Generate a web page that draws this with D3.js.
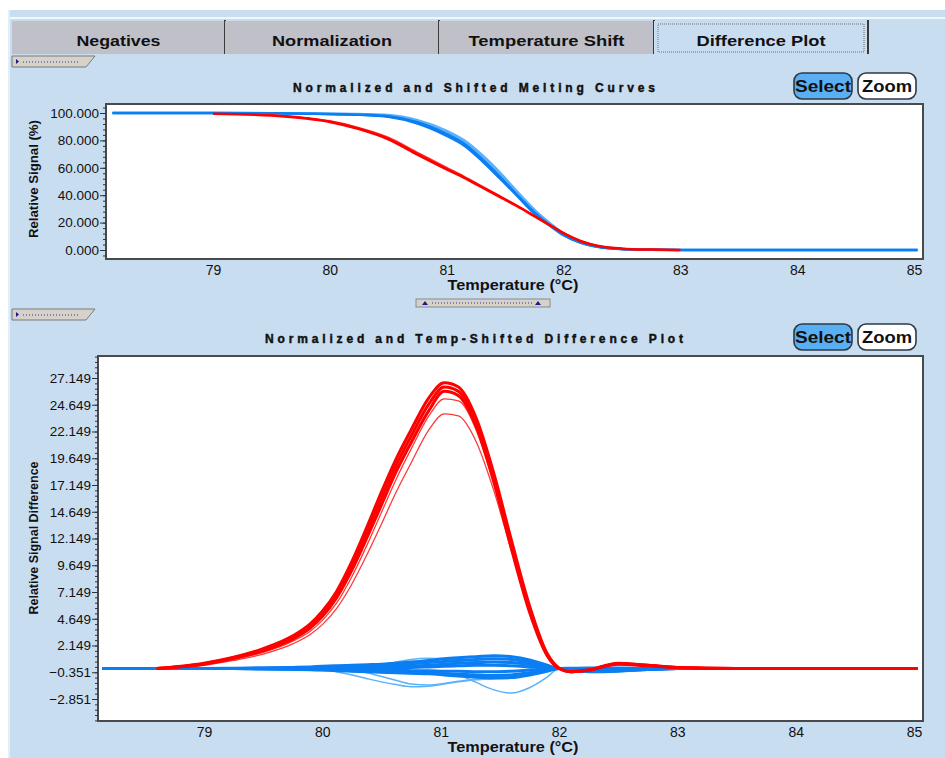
<!DOCTYPE html>
<html>
<head>
<meta charset="utf-8">
<script src="https://cdn.jsdelivr.net/npm/d3@7"></script>
<style>
body { margin: 0; background: #ffffff; }
svg { display: block; font-family: "Liberation Sans", Arial, sans-serif; }
</style>
</head>
<body>
<div id="chart"></div>
<script>
// tabs across the top
var tabNames = ["Negatives", "Normalization", "Temperature Shift", "Difference Plot"];

// upper plot: normalized and shifted melting curves (%)
var meltTemps = [78.14, 78.5, 79.0, 79.5, 79.8, 80.0, 80.25, 80.5, 80.75, 81.0, 81.15, 81.3, 81.45, 81.6, 81.75, 81.9, 82.0, 82.15, 82.3, 82.5, 82.75, 83.0, 83.2, 83.5, 84.0, 84.5, 85.03];
var meltBlue1 = [100, 100, 100, 99.8, 99.5, 99.2, 98.8, 97.6, 93.2, 84.5, 77.5, 66.5, 54, 40.5, 27.5, 17, 11, 5.2, 2.2, 0.7, 0.2, 0, 0, 0, 0, 0, 0];
var meltBlue2 = [100, 100, 100, 99.9, 99.7, 99.5, 99.2, 98.5, 94.8, 87, 80, 69.5, 57, 43, 29.5, 18.5, 12, 5.8, 2.5, 0.8, 0.2, 0, 0, 0, 0, 0, 0];
var meltBlue3 = [100, 100, 100, 99.8, 99.6, 99.3, 99.0, 98.0, 94, 86, 79, 68, 55.5, 42, 28.5, 17.5, 11.5, 5.5, 2.3, 0.7, 0.2, 0, 0, 0, 0, 0, 0];
var meltBlue4 = [100, 100, 100, 99.8, 99.4, 99.0, 98.5, 97.0, 92.2, 83.2, 76, 65, 52.5, 39.5, 26.5, 16.5, 10.6, 5, 2.1, 0.6, 0.2, 0, 0, 0, 0, 0, 0];
var meltRed1 = [null, null, 99.5, 98.5, 96.6, 94.3, 89.3, 82.3, 71.3, 60.3, 53.8, 46.8, 39.8, 32.7, 25.2, 17.6, 12.6, 6.6, 3, 1, 0.3, 0, null, null, null, null, null];
var meltRed2 = [null, null, 99.5, 98.2, 96, 93.5, 88.2, 80.8, 69.6, 58.8, 52.6, 45.8, 39, 32.1, 24.7, 17.2, 12.3, 6.4, 2.9, 1, 0.3, 0, null, null, null, null, null];
var meltRed3 = [null, null, 99.5, 98.4, 96.3, 93.9, 88.8, 81.6, 70.5, 59.6, 53.2, 46.3, 39.4, 32.4, 24.9, 17.4, 12.4, 6.5, 3, 1, 0.3, 0, null, null, null, null, null];
var meltYTicks = [0, 20, 40, 60, 80, 100];

// lower plot: difference to reference
var diffTemps = [78.14, 78.6, 79.0, 79.25, 79.5, 79.75, 79.9, 80.0, 80.12, 80.25, 80.38, 80.5, 80.62, 80.75, 80.9, 81.03, 81.15, 81.3, 81.45, 81.6, 81.75, 81.9, 82.0, 82.1, 82.25, 82.5, 82.75, 83.0, 83.5, 84.0, 84.5, 85.03];
var diffRed1 = [null, 0, 0.5, 1.05, 1.85, 3.05, 4.2, 5.35, 7.2, 10.0, 13.3, 16.5, 19.5, 22.3, 25.3, 26.7, 26.3, 23.4, 18.2, 11.9, 5.9, 1.4, 0.05, -0.3, -0.15, 0.5, 0.3, 0.1, 0, 0, 0, 0];
var diffRed2 = [null, 0, 0.45, 1.0, 1.75, 2.9, 4.0, 5.1, 6.9, 9.6, 12.8, 15.9, 18.9, 21.7, 24.7, 26.3, 25.9, 23.0, 17.8, 11.5, 5.6, 1.3, 0, -0.3, -0.15, 0.45, 0.3, 0.1, 0, 0, 0, 0];
var diffRed3 = [null, 0, 0.4, 0.95, 1.65, 2.75, 3.8, 4.85, 6.6, 9.2, 12.3, 15.3, 18.3, 21.1, 24.1, 25.9, 25.5, 22.6, 17.4, 11.1, 5.3, 1.2, 0, -0.3, -0.15, 0.4, 0.25, 0.1, 0, 0, 0, 0];
var diffRed4 = [null, 0, 0.35, 0.85, 1.5, 2.55, 3.5, 4.5, 6.1, 8.6, 11.6, 14.6, 17.6, 20.5, 23.6, 25.2, 25.0, 22.3, 17.3, 11.2, 5.4, 1.2, 0, -0.3, -0.15, 0.4, 0.25, 0.1, 0, 0, 0, 0];
var diffRed5 = [null, 0, 0.3, 0.75, 1.35, 2.3, 3.2, 4.1, 5.6, 7.9, 10.7, 13.5, 16.4, 19.2, 22.3, 23.8, 23.6, 21.2, 16.6, 10.9, 5.3, 1.2, 0, -0.3, -0.15, 0.4, 0.25, 0.1, 0, 0, 0, 0];
var diffBlue1 = [0, 0, 0, 0.02, 0.05, 0.1, 0.15, 0.2, 0.25, 0.3, 0.35, 0.4, 0.5, 0.6, 0.75, 0.9, 1.0, 1.1, 1.2, 1.1, 0.8, 0.3, 0, 0, 0, 0, 0, 0, 0, 0, 0, 0];
var diffBlue2 = [0, 0, 0, 0, 0.03, 0.06, 0.1, 0.12, 0.15, 0.2, 0.25, 0.3, 0.35, 0.45, 0.55, 0.65, 0.75, 0.85, 0.9, 0.85, 0.6, 0.25, 0, 0.02, 0.05, 0.05, 0.02, 0, 0, 0, 0, 0];
var diffBlue3 = [0, 0, 0, 0, 0.02, 0.04, 0.05, 0.06, 0.08, 0.1, 0.12, 0.15, 0.2, 0.25, 0.3, 0.4, 0.5, 0.55, 0.6, 0.55, 0.4, 0.15, 0, 0, 0, 0, 0, 0, 0, 0, 0, 0];
var diffBlue4 = [0, 0, 0, 0, 0, 0, 0, 0, 0, 0, 0, 0, 0.05, 0.1, 0.15, 0.2, 0.25, 0.3, 0.3, 0.25, 0.15, 0.05, 0, -0.05, -0.1, -0.1, -0.05, 0, 0, 0, 0, 0];
var diffBlue5 = [0, 0, 0, 0, -0.02, -0.04, -0.05, -0.06, -0.08, -0.1, -0.12, -0.15, -0.15, -0.2, -0.2, -0.25, -0.25, -0.3, -0.3, -0.25, -0.15, -0.05, 0, -0.1, -0.15, -0.1, -0.05, 0, 0, 0, 0, 0];
var diffBlue6 = [0, 0, 0, 0, -0.03, -0.06, -0.1, -0.12, -0.15, -0.2, -0.25, -0.3, -0.35, -0.4, -0.45, -0.5, -0.55, -0.6, -0.65, -0.6, -0.4, -0.15, 0, -0.15, -0.25, -0.2, -0.1, 0, 0, 0, 0, 0];
var diffBlue7 = [0, 0, 0, 0, -0.04, -0.08, -0.12, -0.15, -0.2, -0.25, -0.3, -0.35, -0.4, -0.45, -0.5, -0.6, -0.7, -0.8, -0.9, -0.85, -0.6, -0.25, 0, -0.2, -0.3, -0.25, -0.1, 0, 0, 0, 0, 0];
var diffBlue8 = [0, 0, 0, 0, 0, 0, 0, 0.05, 0.08, 0.1, 0.2, 0.35, 0.6, 0.85, 0.95, 0.9, 0.8, 0.7, 0.6, 0.5, 0.3, 0.1, 0, 0, 0, 0, 0, 0, 0, 0, 0, 0];
var diffBlue9 = [0, 0, 0, 0, 0, 0, 0, -0.05, -0.3, -0.6, -0.95, -1.25, -1.5, -1.7, -1.65, -1.45, -1.25, -1.05, -0.95, -0.85, -0.6, -0.25, 0, 0, 0, 0, 0, 0, 0, 0, 0, 0];
var diffBlue10 = [0, 0, 0, 0, 0, 0, 0, 0, 0, -0.1, -0.4, -0.75, -1.1, -1.45, -1.55, -1.4, -1.2, -0.95, -0.8, -0.7, -0.5, -0.2, 0, 0, 0, 0, 0, 0, 0, 0, 0, 0];
var diffBlue11 = [0, 0, 0, 0, 0, 0, 0, 0, 0, 0, -0.05, -0.1, -0.15, -0.2, -0.3, -0.4, -0.6, -1.3, -2.0, -2.3, -1.8, -0.8, 0, 0, 0, 0, 0, 0, 0, 0, 0, 0];
var diffYTicks = [-2.851, -0.351, 2.149, 4.649, 7.149, 9.649, 12.149, 14.649, 17.149, 19.649, 22.149, 24.649, 27.149];

var tempTicks = [79, 80, 81, 82, 83, 84, 85];

var blueDark = "#0a7ef2", blueLight = "#5cb2fa", red = "#ff0000", redThin = "#ff3a3a";
var bg = "#c9ddf1";

var svg = d3.select("#chart").append("svg")
	.attr("width", 945)
	.attr("height", 758);

var box = function(x, y, w, h, fill, stroke, sw){
	return svg.append("rect")
		.attr("x", x).attr("y", y)
		.attr("width", w).attr("height", h)
		.style("fill", fill)
		.style("stroke", stroke || "none")
		.style("stroke-width", sw || 1);
}

// window chrome
box(0, 0, 945, 758, bg);
box(0, 0, 945, 10, "#ffffff");
box(0, 0, 8, 758, "#ffffff");
box(8, 10, 2, 748, "#e4eef9");
box(10, 17, 935, 2, "#f2f7fc");

// tabs
var tabEdges = [12, 225, 439, 654, 868];
tabNames.forEach(function(name, i){
	var x0 = tabEdges[i], x1 = tabEdges[i + 1];
	var selected = (i == tabNames.length - 1);
	box(x0, 21, x1 - x0, 33, selected ? bg : "#c0c0c9");
	svg.append("line")
		.attr("x1", x1).attr("x2", x1).attr("y1", 20).attr("y2", 54)
		.style("stroke", "#3a3a3a").style("stroke-width", 2);
	if (selected) {
		box(x0 + 4, 24, x1 - x0 - 8, 28, "none", "#707070", 1)
			.style("stroke-dasharray", "1,1");
	}
	svg.append("text")
		.attr("x", (x0 + x1) / 2).attr("y", 46)
		.attr("text-anchor", "middle")
		.attr("textLength", [84, 120, 156, 129][i])
		.attr("lengthAdjust", "spacingAndGlyphs")
		.style("font-size", "15px").style("font-weight", "bold")
		.style("fill", "#111")
		.text(name);
});

// little collapse handles
var drawHandle = function(y){
	svg.append("polygon")
		.attr("points", [[12, y], [95, y], [86, y + 11], [12, y + 11]].join(" "))
		.style("fill", "#d6d2ca").style("stroke", "#7a7a7a");
	svg.append("polygon")
		.attr("points", [[16, y + 3], [19, y + 5.5], [16, y + 8]].join(" "))
		.style("fill", "#1a1a90");
	svg.append("line")
		.attr("x1", 23).attr("x2", 80).attr("y1", y + 6).attr("y2", y + 6)
		.style("stroke", "#3030a0").style("stroke-dasharray", "1,2");
}
drawHandle(56);
drawHandle(309);

// splitter between plots
box(416, 299, 134, 8, "#d6d2ca", "#8a8a8a");
[425, 538].forEach(function(x){
	svg.append("polygon")
		.attr("points", [[x - 3, 305], [x, 301], [x + 3, 305]].join(" "))
		.style("fill", "#1a1a90");
});
svg.append("line")
	.attr("x1", 432).attr("x2", 532).attr("y1", 303).attr("y2", 303)
	.style("stroke", "#3030a0").style("stroke-dasharray", "1,2");

var drawButtons = function(y){
	box(794, y, 58, 26, "#5aaef2", "#2c3a48", 1.6).attr("rx", 8);
	box(858, y, 58, 26, "#ffffff", "#2c3a48", 1.6).attr("rx", 8);
	svg.append("text").attr("x", 823).attr("y", y + 19).attr("text-anchor", "middle")
		.style("font-size", "16px").style("font-weight", "bold").style("fill", "#111")
		.attr("textLength", 56).attr("lengthAdjust", "spacingAndGlyphs").text("Select");
	svg.append("text").attr("x", 887).attr("y", y + 19).attr("text-anchor", "middle")
		.style("font-size", "16px").style("font-weight", "bold").style("fill", "#111")
		.attr("textLength", 50).attr("lengthAdjust", "spacingAndGlyphs").text("Zoom");
}
drawButtons(73);
drawButtons(324);

var drawPlot = function(cfg){
	var x = d3.scaleLinear().domain([79, 85]).range(cfg.xRange);
	var y = d3.scaleLinear().domain(cfg.yDomain).range(cfg.yRange);

	svg.append("text")
		.attr("x", 474).attr("y", cfg.titleY)
		.attr("text-anchor", "middle")
		.attr("textLength", cfg.titleLen).attr("lengthAdjust", "spacing")
		.style("font-size", "12px").style("font-weight", "bold").style("fill", "#111")
		.style("stroke", "#111").style("stroke-width", 0.45)
		.text(cfg.title);

	box(cfg.left, cfg.top, cfg.right - cfg.left, cfg.bottom - cfg.top, "#ffffff");

	var clipId = "clip" + cfg.id;
	svg.append("clipPath").attr("id", clipId)
		.append("rect")
		.attr("x", cfg.left).attr("y", cfg.top)
		.attr("width", cfg.right - cfg.left).attr("height", cfg.bottom - cfg.top);

	var g = svg.append("g").attr("clip-path", "url(#" + clipId + ")");
	cfg.series.forEach(function(s){
		var line = d3.line()
			.defined(function(d){ return d[1] !== null; })
			.x(function(d){ return x(d[0]); })
			.y(function(d){ return y(d[1]); })
			.curve(d3.curveMonotoneX);
		g.append("path")
			.datum(d3.zip(cfg.temps, s.values))
			.attr("d", line)
			.style("fill", "none")
			.style("stroke", s.color)
			.style("stroke-width", s.width)
			.style("stroke-linejoin", "round");
	});

	box(cfg.left, cfg.top, cfg.right - cfg.left, cfg.bottom - cfg.top, "none", "#4a4a4a", 2);

	// y axis, major and minor ticks
	var minor = d3.range(cfg.minorStart, cfg.yDomain[1] + 20, cfg.minorStep)
		.filter(function(v){ return y(v) >= cfg.top && y(v) <= cfg.bottom; });
	svg.append("g")
		.attr("transform", "translate(" + cfg.left + ",0)")
		.call(d3.axisLeft(y).tickValues(minor).tickSize(3).tickFormat(""))
		.call(function(a){ a.select(".domain").remove(); })
		.selectAll("line").style("stroke", "#333");
	var ya = svg.append("g")
		.attr("transform", "translate(" + cfg.left + ",0)")
		.call(d3.axisLeft(y).tickValues(cfg.yTicks).tickSize(6).tickPadding(1).tickFormat(d3.format(".3f")));
	ya.select(".domain").remove();
	ya.selectAll("line").style("stroke", "#333");
	ya.selectAll("text").style("font-size", "13.5px").style("fill", "#111")
		.style("font-family", "\"Liberation Sans\", Arial, sans-serif");

	var xa = svg.append("g")
		.attr("transform", "translate(0," + cfg.bottom + ")")
		.call(d3.axisBottom(x).tickValues(tempTicks).tickSize(0).tickPadding(6).tickFormat(d3.format("d")));
	xa.select(".domain").remove();
	xa.selectAll("text").style("font-size", "14px").style("fill", "#111")
		.style("font-family", "\"Liberation Sans\", Arial, sans-serif");

	svg.append("text")
		.attr("x", 513).attr("y", cfg.bottom + 31)
		.attr("text-anchor", "middle")
		.attr("textLength", 131).attr("lengthAdjust", "spacingAndGlyphs")
		.style("font-size", "14px").style("font-weight", "bold").style("fill", "#111")
		.text("Temperature (°C)");

	svg.append("text")
		.attr("transform", "translate(" + cfg.yLabelX + "," + cfg.yLabelY + ") rotate(-90)")
		.attr("text-anchor", "middle")
		.attr("textLength", cfg.yLabelLen).attr("lengthAdjust", "spacingAndGlyphs")
		.style("font-size", "12px").style("font-weight", "bold").style("fill", "#111")
		.text(cfg.yLabel);
}

drawPlot({
	id: 1,
	title: "Normalized and Shifted Melting Curves", titleY: 92, titleLen: 362,
	left: 106, top: 104, right: 923, bottom: 259,
	xRange: [213, 914], yDomain: [0, 100], yRange: [250, 113],
	yTicks: meltYTicks, minorStart: -4, minorStep: 4,
	yLabel: "Relative Signal (%)", yLabelX: 38, yLabelY: 179, yLabelLen: 118,
	temps: meltTemps,
	series: [
		{values: meltBlue2, color: blueLight, width: 2.5},
		{values: meltBlue3, color: blueLight, width: 2.5},
		{values: meltBlue4, color: blueDark, width: 2},
		{values: meltBlue1, color: blueDark, width: 2.5},
		{values: meltRed1, color: redThin, width: 1.5},
		{values: meltRed3, color: red, width: 1.5},
		{values: meltRed2, color: red, width: 2.5}
	]
});

drawPlot({
	id: 2,
	title: "Normalized and Temp-Shifted Difference Plot", titleY: 343, titleLen: 418,
	left: 98, top: 356, right: 923, bottom: 721,
	xRange: [204, 914], yDomain: [-2.851, 27.149], yRange: [699, 378],
	yTicks: diffYTicks, minorStart: -4.851, minorStep: 0.5,
	yLabel: "Relative Signal Difference", yLabelX: 38, yLabelY: 538, yLabelLen: 153,
	temps: diffTemps,
	series: [
		{values: diffBlue9, color: blueLight, width: 1.5},
		{values: diffBlue10, color: blueLight, width: 1.5},
		{values: diffBlue11, color: blueLight, width: 1.5},
		{values: diffBlue8, color: blueLight, width: 1.5},
		{values: diffBlue1, color: blueDark, width: 3},
		{values: diffBlue2, color: blueDark, width: 3},
		{values: diffBlue3, color: blueDark, width: 3},
		{values: diffBlue4, color: blueDark, width: 3},
		{values: diffBlue5, color: blueDark, width: 3},
		{values: diffBlue6, color: blueDark, width: 3},
		{values: diffBlue7, color: blueDark, width: 3},
		{values: diffRed5, color: redThin, width: 1.3},
		{values: diffRed4, color: redThin, width: 1.3},
		{values: diffRed3, color: red, width: 3},
		{values: diffRed2, color: red, width: 3},
		{values: diffRed1, color: red, width: 3}
	]
});
</script>
</body>
</html>
